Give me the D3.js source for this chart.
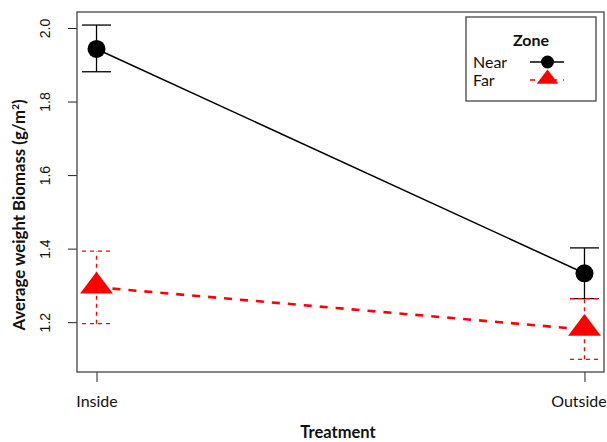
<!DOCTYPE html>
<html>
<head>
<meta charset="utf-8">
<script src="https://cdn.jsdelivr.net/npm/d3@7"></script>
<style>
  body { margin: 0; background: #fff; }
  text { font-family: Lato, "Open Sans", sans-serif; fill: #111; }
</style>
</head>
<body>
<svg id="chart" width="607" height="442"></svg>
<script>
/* data */
const treatments = ["Inside", "Outside"];
const zones = ["Near", "Far"];
const nearMean = [1.943, 1.333];
const nearLow  = [1.881, 1.264];
const nearHigh = [2.008, 1.402];
const farMean  = [1.295, 1.180];
const farLow   = [1.196, 1.099];
const farHigh  = [1.393, 1.264];
const yTicks = [1.2, 1.4, 1.6, 1.8, 2.0];

const box = {left: 77, right: 604, top: 12, bottom: 372};

const svg = d3.select("#chart");

/* R style axis: 4% padding on each side of the x range */
const x = d3.scaleLinear().domain([0.96, 2.04]).range([box.left, box.right]);
const y = d3.scaleLinear().domain([1.0645, 2.0435]).range([box.bottom, box.top]);

const series = [
  {name: zones[0], mean: nearMean, lo: nearLow, hi: nearHigh, color: "#000", dash: null, width: 1.5, barDash: null, shape: "circle"},
  {name: zones[1], mean: farMean, lo: farLow, hi: farHigh, color: "#ff0000", dash: "8,8", width: 2.6, barDash: "4,4", shape: "triangle"}
];

/* axes */
const yAxis = d3.axisLeft(y).tickValues(yTicks).tickFormat(d3.format(".1f")).tickSize(9);
const gy = svg.append("g").attr("transform", "translate(" + box.left + ",0)").call(yAxis);
gy.select(".domain").remove();
gy.selectAll("line").attr("stroke", "#222");
/* rotated tick labels, like R's las=0 */
gy.selectAll(".tick text").each(function(){
  d3.select(this).attr("x", -32).attr("y", 0).attr("dy", "0.35em")
    .attr("transform", "rotate(-90,-32,0)")
    .style("text-anchor", "middle")
    .style("font-family", "'Liberation Sans', Arial, sans-serif")
    .style("font-size", "14px");
});

const xAxis = d3.axisBottom(x).tickValues([1, 2]).tickFormat(d => treatments[d - 1]).tickSize(10).tickPadding(14);
const gx = svg.append("g").attr("transform", "translate(0," + box.bottom + ")").call(xAxis);
gx.select(".domain").remove();
gx.selectAll("text").style("font-size", "16px");
gx.selectAll("line").attr("stroke", "#222");
gx.selectAll(".tick").filter(d => d === 2).select("text").attr("x", -6);

/* plot frame */
svg.append("rect")
  .attr("x", box.left).attr("y", box.top)
  .attr("width", box.right - box.left).attr("height", box.bottom - box.top)
  .attr("fill", "none").attr("stroke", "#444").attr("stroke-width", 1.3);

/* axis titles */
svg.append("text")
  .attr("x", 338).attr("y", 438)
  .attr("text-anchor", "middle")
  .style("font-weight", "bold").style("font-size", "16.5px")
  .text("Treatment");

const yt = svg.append("text")
  .attr("transform", "translate(25,215) rotate(-90)")
  .attr("text-anchor", "middle")
  .style("font-weight", "bold").style("font-size", "16.8px");
yt.append("tspan").text("Average weight Biomass (g/m");
yt.append("tspan").attr("dy", -6).style("font-size", "10px").text("2");
yt.append("tspan").attr("dy", 6).text(")");

const line = d3.line().x((d, i) => x(i + 1)).y(d => y(d));
const tri = d3.symbol().type(d3.symbolTriangle).size(300);

series.forEach(s => {
  const g = svg.append("g");
  /* error bars */
  s.mean.forEach((m, i) => {
    const cx = x(i + 1);
    g.append("line")
      .attr("x1", cx).attr("x2", cx).attr("y1", y(s.lo[i])).attr("y2", y(s.hi[i]))
      .attr("stroke", s.color).attr("stroke-width", 1.3).attr("stroke-dasharray", s.barDash);
    [s.lo[i], s.hi[i]].forEach(v => {
      g.append("line")
        .attr("x1", cx - 14.5).attr("x2", cx + 14.5).attr("y1", y(v)).attr("y2", y(v))
        .attr("stroke", s.color).attr("stroke-width", 1.3).attr("stroke-dasharray", s.barDash);
    });
  });
  /* connecting line */
  g.append("path")
    .attr("d", line(s.mean))
    .attr("fill", "none").attr("stroke", s.color)
    .attr("stroke-width", s.width).attr("stroke-dasharray", s.dash);
  /* points */
  s.mean.forEach((m, i) => {
    if (s.shape === "circle") {
      g.append("circle").attr("cx", x(i + 1)).attr("cy", y(m)).attr("r", 9).attr("fill", s.color);
    } else {
      g.append("path").attr("d", tri)
        .attr("transform", "translate(" + x(i + 1) + "," + (y(m) - 1) + ") scale(1.25,0.95)")
        .attr("fill", s.color);
    }
  });
});

/* legend */
const lg = svg.append("g").attr("id", "legend");
lg.append("rect")
  .attr("x", 466).attr("y", 17).attr("width", 130).attr("height", 84)
  .attr("fill", "#fff").attr("stroke", "#444").attr("stroke-width", 1.3);
lg.append("text")
  .attr("x", 531).attr("y", 46)
  .attr("text-anchor", "middle")
  .style("font-weight", "bold").style("font-size", "16px")
  .text("Zone");
series.forEach((s, i) => {
  const ly = 62 + i * 18;
  lg.append("text").attr("x", 473).attr("y", ly + 6).style("font-size", "16px").text(s.name);
  lg.append("line")
    .attr("x1", 530).attr("x2", 564).attr("y1", ly).attr("y2", ly)
    .attr("stroke", s.color).attr("stroke-width", 1.3)
    .attr("stroke-dasharray", s.dash ? "5,6" : null);
  if (s.shape === "circle") {
    lg.append("circle").attr("cx", 547.5).attr("cy", ly).attr("r", 6.5).attr("fill", s.color);
  } else {
    lg.append("path").attr("d", d3.symbol().type(d3.symbolTriangle).size(130))
      .attr("transform", "translate(547.5," + (ly - 1) + ") scale(1.25,0.95)")
      .attr("fill", s.color);
  }
});
</script>
</body>
</html>
